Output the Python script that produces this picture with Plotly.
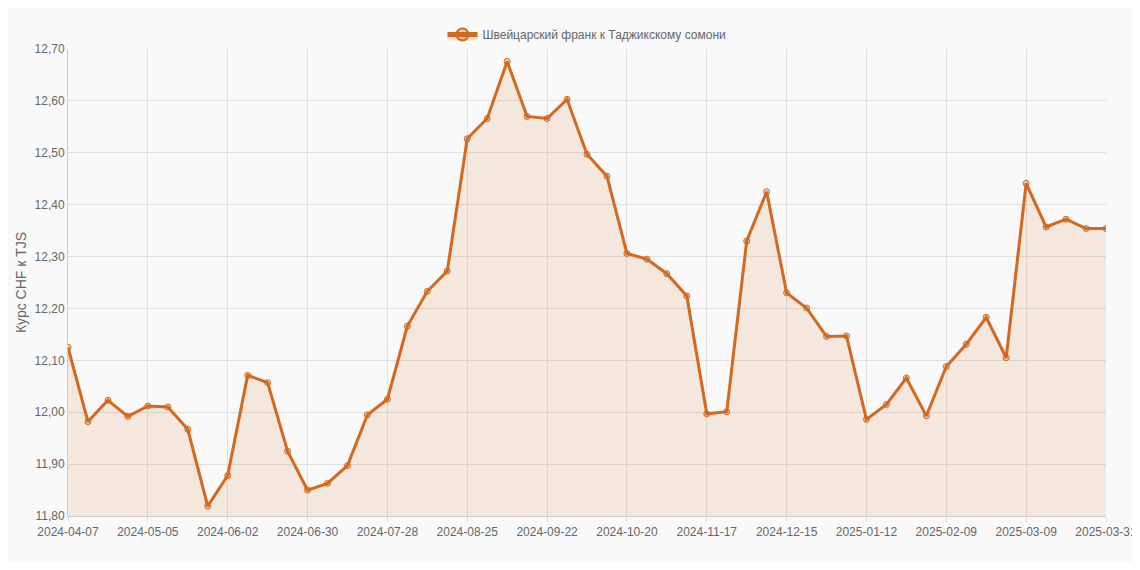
import plotly.graph_objects as go
import datetime as dt

start = dt.date(2024, 4, 7)
dates = [(start + dt.timedelta(days=7 * i)).isoformat() for i in range(52)] + ["2025-03-31"]
values = [12.125, 11.982, 12.023, 11.992, 12.012, 12.010, 11.967, 11.819, 11.878, 12.071,
          12.057, 11.925, 11.850, 11.863, 11.897, 11.995, 12.025, 12.166, 12.233, 12.272,
          12.527, 12.566, 12.676, 12.570, 12.566, 12.603, 12.497, 12.455, 12.306, 12.295,
          12.267, 12.224, 11.997, 12.001, 12.330, 12.425, 12.230, 12.201, 12.146, 12.147,
          11.986, 12.015, 12.066, 11.993, 12.088, 12.131, 12.183, 12.105, 12.441, 12.357,
          12.372, 12.354, 12.354]
tick_labels = dates[::4]

color = "#d2691e"
fig = go.Figure(go.Scatter(
    x=dates, y=values, mode="lines+markers", name="Швейцарский франк к Таджикскому сомони",
    line=dict(color=color, width=3),
    marker=dict(size=6, color="rgba(210,105,30,0.3)", line=dict(color=color, width=1)),
    fill="tozeroy", fillcolor="rgba(210,105,30,0.12)",
))
fig.update_layout(
    width=1124, height=554, paper_bgcolor="#f9f9f9", plot_bgcolor="#f9f9f9",
    margin=dict(l=60, r=26, t=24, b=46),
    font=dict(family="Arial, Liberation Sans", size=12, color="#666"),
    separators=", ",
    showlegend=True,
    legend=dict(orientation="h", x=0.5, xanchor="center", y=1.0, yanchor="bottom",
                font=dict(size=12, color="#666"), itemsizing="constant"),
)
fig.update_xaxes(type="category", tickvals=tick_labels, ticktext=tick_labels, tickangle=0,
                 showgrid=True, gridcolor="#e0e0e0", linecolor="#ccc", ticks="outside",
                 tickcolor="#e0e0e0", range=[0, len(dates) - 1], automargin=False)
fig.update_yaxes(range=[11.8, 12.7], dtick=0.1, tickformat=".2f", showgrid=True,
                 gridcolor="#e0e0e0", linecolor="#ccc", title_text="Курс CHF к TJS",
                 title_standoff=4, zeroline=False, automargin=False)
fig.write_html("out.html")
